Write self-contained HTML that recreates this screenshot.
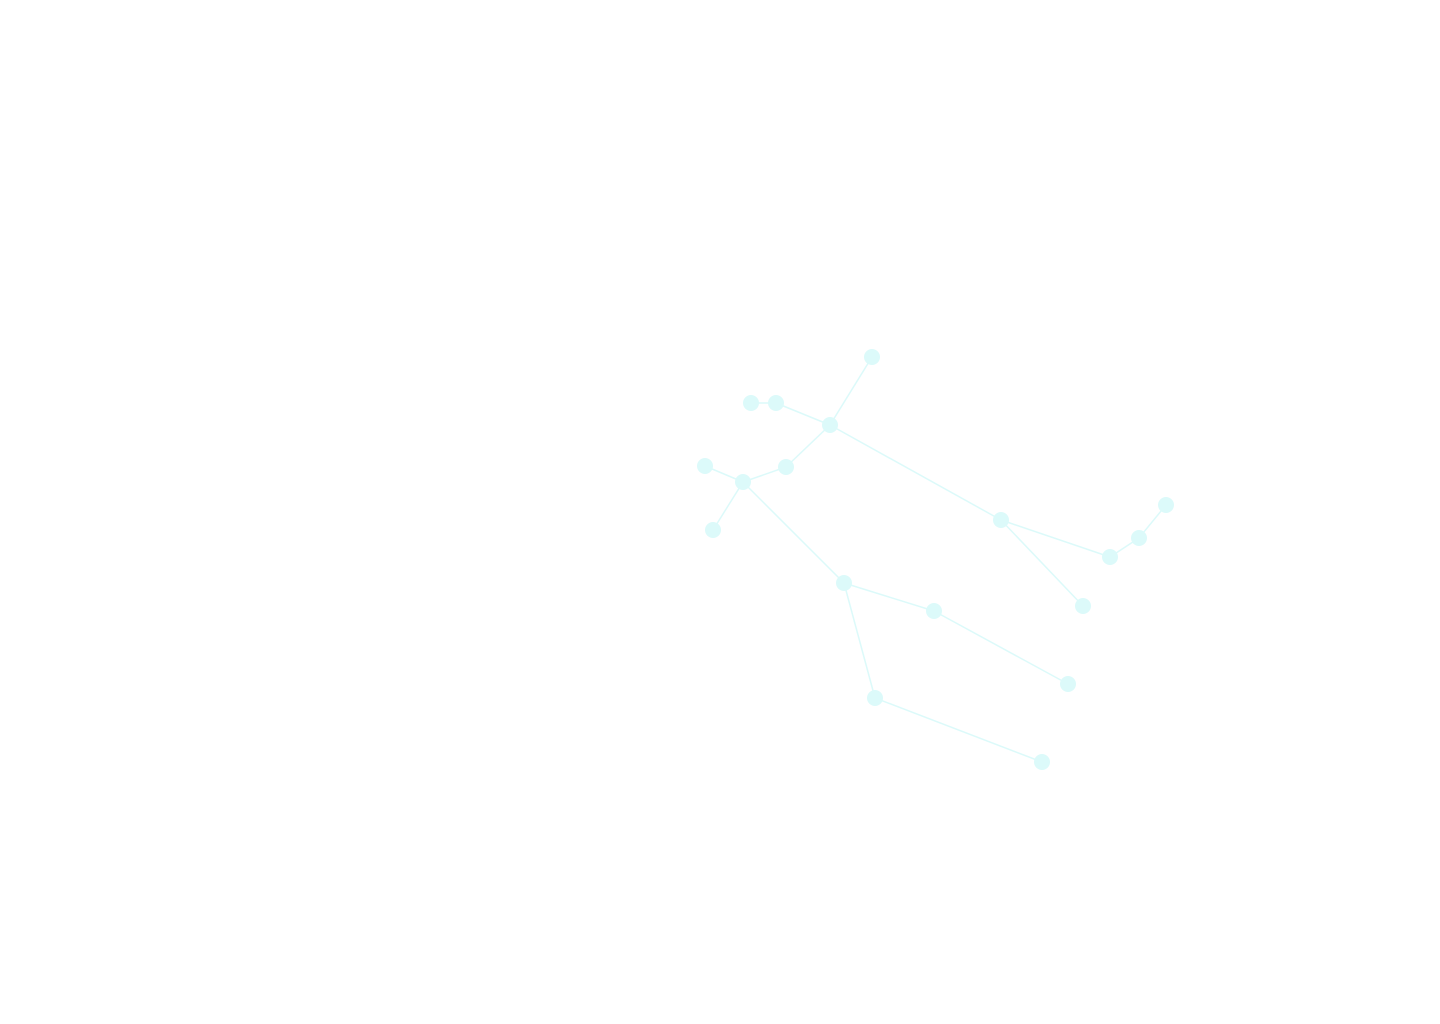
<!DOCTYPE html>
<html><head><style>html,body{margin:0;padding:0;background:#fff;width:1440px;height:1024px;overflow:hidden}</style></head>
<body>
<svg width="1440" height="1024" xmlns="http://www.w3.org/2000/svg">
<g stroke="#dcfafa" stroke-width="1.5">
<line x1="872" y1="357" x2="830" y2="425"/>
<line x1="751" y1="403" x2="776" y2="403"/>
<line x1="776" y1="403" x2="830" y2="425"/>
<line x1="830" y1="425" x2="786" y2="467"/>
<line x1="830" y1="425" x2="1001" y2="520"/>
<line x1="786" y1="467" x2="743" y2="482"/>
<line x1="705" y1="466" x2="743" y2="482"/>
<line x1="743" y1="482" x2="713" y2="530"/>
<line x1="743" y1="482" x2="844" y2="583"/>
<line x1="1001" y1="520" x2="1110" y2="557"/>
<line x1="1001" y1="520" x2="1083" y2="606"/>
<line x1="1110" y1="557" x2="1139" y2="538"/>
<line x1="1139" y1="538" x2="1166" y2="505"/>
<line x1="844" y1="583" x2="934" y2="611"/>
<line x1="934" y1="611" x2="1068" y2="684"/>
<line x1="844" y1="583" x2="875" y2="698"/>
<line x1="875" y1="698" x2="1042" y2="762"/>
</g>
<g fill="#dcfafa">
<circle cx="872" cy="357" r="8"/><circle cx="751" cy="403" r="8"/><circle cx="776" cy="403" r="8"/>
<circle cx="830" cy="425" r="8"/><circle cx="786" cy="467" r="8"/><circle cx="705" cy="466" r="8"/>
<circle cx="743" cy="482" r="8"/><circle cx="713" cy="530" r="8"/><circle cx="1001" cy="520" r="8"/>
<circle cx="1110" cy="557" r="8"/><circle cx="1139" cy="538" r="8"/><circle cx="1166" cy="505" r="8"/>
<circle cx="1083" cy="606" r="8"/><circle cx="844" cy="583" r="8"/><circle cx="934" cy="611" r="8"/>
<circle cx="1068" cy="684" r="8"/><circle cx="875" cy="698" r="8"/><circle cx="1042" cy="762" r="8"/>
</g>
</svg>
</body></html>
